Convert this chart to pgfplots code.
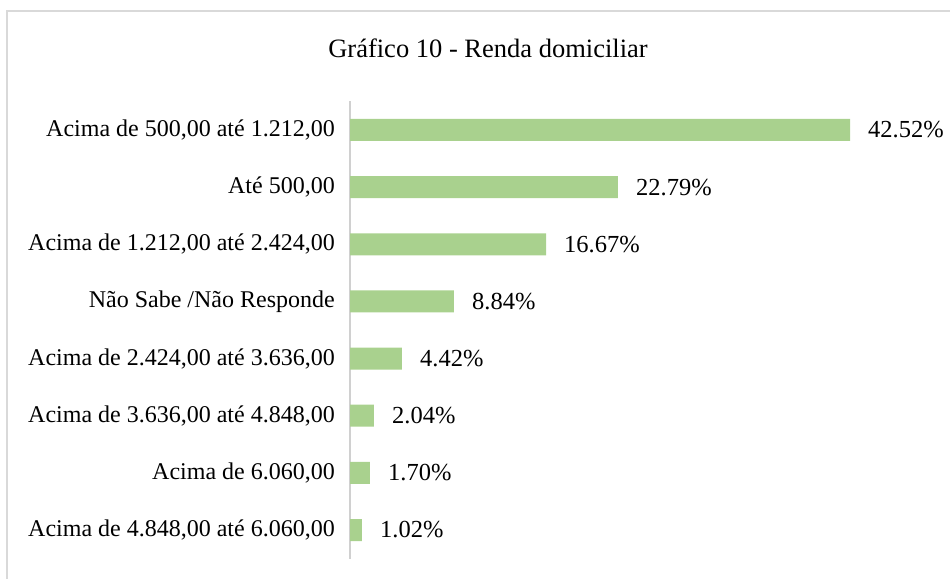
\documentclass[border=0pt]{standalone}
\usepackage{fontspec}
\setmainfont{Liberation Serif}
\usepackage{pgfplots}
\pgfplotsset{compat=1.18}
\definecolor{bargreen}{HTML}{A9D18E}
\definecolor{axgray}{HTML}{D0D0D0}
\definecolor{framegray}{HTML}{D9D9D9}
\begin{document}
\begin{tikzpicture}
\path[use as bounding box] (0,0) rectangle (950bp,579bp);
\draw[framegray, line width=1.5bp] (7bp,0) -- (7bp,568bp) -- (960bp,568bp);
\node[font=\fontsize{26.5bp}{30bp}\selectfont, anchor=center] at (488bp,531bp) {Gráfico 10 - Renda domiciliar};
\begin{axis}[
  at={(350bp,20.4bp)}, anchor=south west,
  scale only axis, width=500bp, height=457.2bp,
  xbar, bar width=22bp, bar shift=0pt,
  xmin=0, xmax=42.52, ymin=-0.5, ymax=7.5,
  enlargelimits=false, clip=false,
  axis x line=none,
  axis y line*=left,
  y axis line style={-, draw=axgray, line width=1.5bp},
  ytick={0,...,7},
  yticklabels={{Acima de 4.848,00 até 6.060,00}, {Acima de 6.060,00}, {Acima de 3.636,00 até 4.848,00}, {Acima de 2.424,00 até 3.636,00}, {Não Sabe /Não Responde}, {Acima de 1.212,00 até 2.424,00}, {Até 500,00}, {Acima de 500,00 até 1.212,00}},
  ytick style={draw=none},
  major tick length=0pt,
  yticklabel style={font=\fontsize{24bp}{28bp}\selectfont, inner sep=0pt, text=black},
  yticklabel shift=15bp,
  point meta=explicit symbolic,
  nodes near coords,
  every node near coord/.append style={font=\fontsize{24.5bp}{28bp}\selectfont, anchor=west, inner sep=0pt, xshift=18bp, text=black},
]
\addplot[fill=bargreen, draw=none] coordinates {
  (1.02,0) [1.02\%]
  (1.70,1) [1.70\%]
  (2.04,2) [2.04\%]
  (4.42,3) [4.42\%]
  (8.84,4) [8.84\%]
  (16.67,5) [16.67\%]
  (22.79,6) [22.79\%]
  (42.52,7) [42.52\%]
};
\end{axis}
\end{tikzpicture}
\end{document}
